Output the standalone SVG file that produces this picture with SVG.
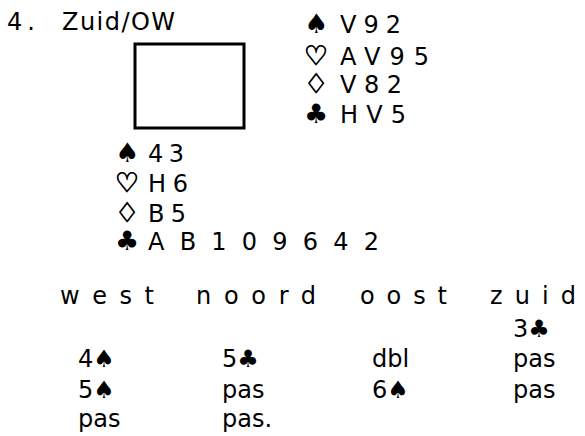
<svg xmlns="http://www.w3.org/2000/svg" width="585" height="436" viewBox="0 0 585 436">
<style>
text{font-family:"DejaVu Sans","Liberation Sans",sans-serif;font-size:24px;fill:#000}
.s{font-family:"DejaVu Sans",sans-serif;font-size:27px}
.b{font-family:"DejaVu Sans",sans-serif;font-size:24px}
.o{stroke:#000;stroke-width:0.9}
</style>
<rect width="585" height="436" fill="#fff"/>
<g id="title">
<text x="7" y="30" textLength="28" lengthAdjust="spacing">4.</text>
<text x="62" y="30" textLength="113" lengthAdjust="spacing">Zuid/OW</text>
</g>
<g id="table">
<rect x="135" y="44" width="109" height="84" fill="none" stroke="#000" stroke-width="3"/>
</g>
<g id="north">
<text class="s" x="304" y="33">♠</text><text x="340" y="33" textLength="61" lengthAdjust="spacing">V92</text>
<text class="s o" x="304" y="65">♡</text><text x="340" y="65" textLength="89" lengthAdjust="spacing">AV95</text>
<text class="s o" x="304" y="93">♢</text><text x="340" y="93" textLength="62" lengthAdjust="spacing">V82</text>
<text class="s" x="304" y="123">♣</text><text x="340" y="123" textLength="66" lengthAdjust="spacing">HV5</text>
</g>
<g id="south">
<text class="s" x="115" y="162">♠</text><text x="148" y="162" textLength="36" lengthAdjust="spacing">43</text>
<text class="s o" x="115" y="192">♡</text><text x="148" y="192" textLength="40" lengthAdjust="spacing">H6</text>
<text class="s o" x="115" y="222">♢</text><text x="148" y="222" textLength="38" lengthAdjust="spacing">B5</text>
<text class="s" x="115" y="250">♣</text><text x="148" y="250" textLength="231" lengthAdjust="spacing">AB109642</text>
</g>
<g id="bidding">
<text x="60" y="304" textLength="94" lengthAdjust="spacing">west</text>
<text x="196" y="304" textLength="120" lengthAdjust="spacing">noord</text>
<text x="360" y="304" textLength="87" lengthAdjust="spacing">oost</text>
<text x="490" y="304" textLength="86" lengthAdjust="spacing">zuid</text>
<text x="513" y="337">3<tspan class="b">♣</tspan></text>
<text x="78" y="367">4<tspan class="b">♠</tspan></text>
<text x="222" y="367">5<tspan class="b">♣</tspan></text>
<text x="372" y="367">dbl</text>
<text x="513" y="367">pas</text>
<text x="78" y="398">5<tspan class="b">♠</tspan></text>
<text x="222" y="398">pas</text>
<text x="372" y="398">6<tspan class="b">♠</tspan></text>
<text x="513" y="398">pas</text>
<text x="78" y="427">pas</text>
<text x="222" y="427">pas.</text>
</g>
</svg>
